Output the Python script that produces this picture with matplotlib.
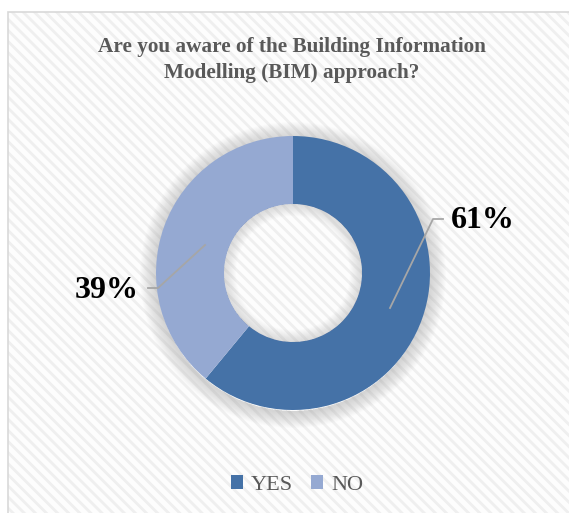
import matplotlib
matplotlib.use("Agg")
import matplotlib.pyplot as plt
from matplotlib.patches import Rectangle, Wedge, Patch

# ===============================
#  DATA
# ===============================
title = "Are you aware of the Building Information\nModelling (BIM) approach?"
labels = ["YES", "NO"]
values = [61, 39]
colors = ["#4572a7", "#95a9d2"]

W, H = 569, 513
plt.rcParams["font.family"] = ["Liberation Serif", "DejaVu Serif"]
plt.rcParams["hatch.linewidth"] = 2.0

fig = plt.figure(figsize=(W / 100, H / 100), dpi=100)
ax = fig.add_axes([0, 0, 1, 1])

# chart area background with diagonal stripes
ax.add_patch(Rectangle((8, -10), 600, H - 12 + 10, facecolor="#fdfdfd",
                       edgecolor="#efefef", hatch="\\\\\\", linewidth=0, zorder=0))
ax.add_patch(Rectangle((8, -10), 600, H - 12 + 10, facecolor="none",
                       edgecolor="#d9d9d9", linewidth=1.2, zorder=1))

# donut geometry
cx, cy = 293, 240
r_out, r_in = 137, 69

# soft glow around the ring (outside only)
for i in range(16):
    ax.add_patch(Wedge((cx, cy - 2), r_out + 16 - i, 0, 360, width=16 - i + 1,
                       facecolor="#7f7f7f", edgecolor="none", alpha=0.02, zorder=2))

wedges, _ = ax.pie(values, colors=colors, startangle=90, counterclock=False,
                   center=(cx, cy), radius=r_out, frame=True,
                   wedgeprops=dict(width=r_out - r_in, linewidth=0))
for w in wedges:
    w.set_zorder(3)

# inner shadow in the hole
for i in range(12):
    ax.add_patch(Wedge((cx, cy), r_in, 0, 360, width=i + 1,
                       facecolor="#7f7f7f", edgecolor="none", alpha=0.02, zorder=4))

ax.set_xlim(0, W)
ax.set_ylim(0, H)
ax.axis("off")

# data labels with leader lines
pct = [f"{v}%" for v in values]
ax.plot([390, 433, 443], [205, 294, 294], color="#a6a6a6", lw=1.3, zorder=5)
ax.text(451, 292, pct[0], fontsize=23, fontweight="bold", color="black",
        ha="left", va="center", zorder=6)
ax.plot([205, 158, 148], [268, 225, 225], color="#a6a6a6", lw=1.3, zorder=5)
ax.text(139, 223, pct[1], fontsize=23, fontweight="bold", color="black",
        ha="right", va="center", zorder=6)

# title
ax.text(292, 453, title, fontsize=15.3, fontweight="bold", color="#595959",
        ha="center", va="center", linespacing=1.38, zorder=6)

# legend
handles = [Patch(facecolor=c, edgecolor="none", label=l) for c, l in zip(colors, labels)]
leg = ax.legend(handles=handles, loc="center", bbox_to_anchor=(297, 28),
                bbox_transform=ax.transData, ncol=2, frameon=False,
                fontsize=16, handlelength=0.55, handleheight=0.55,
                handletextpad=0.35, columnspacing=0.8, borderpad=0.2)
for t in leg.get_texts():
    t.set_color("#595959")

fig.savefig("out.png", dpi=100)
